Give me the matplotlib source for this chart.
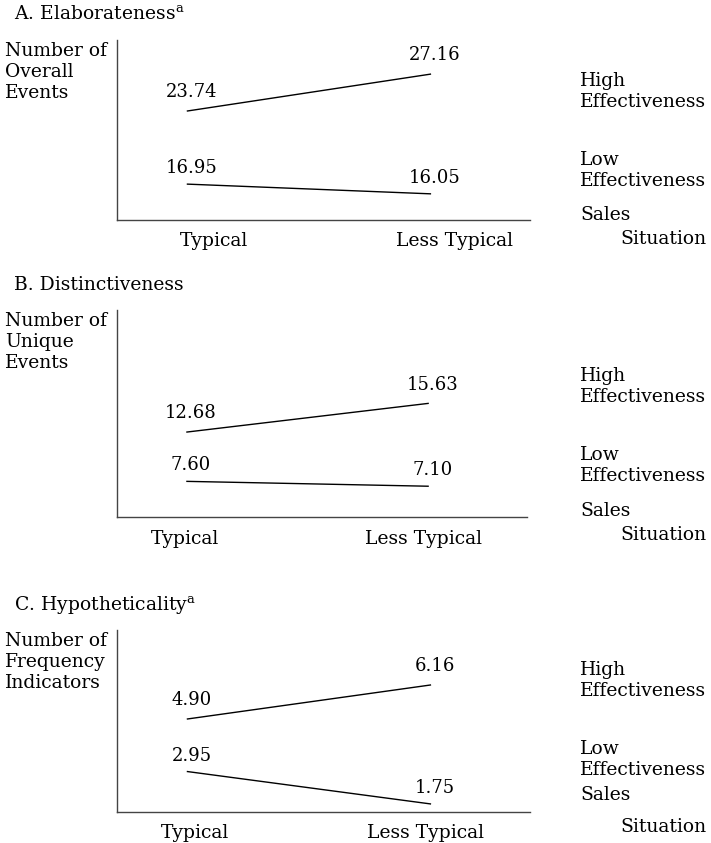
import matplotlib.pyplot as plt

plt.rcParams['font.family'] = 'DejaVu Serif'
plt.rcParams['mathtext.fontset'] = 'dejavuserif'

# data
situations = ['Typical', 'Less Typical']
titles = ['A. Elaborateness$^{\\mathrm{a}}$', 'B. Distinctiveness', 'C. Hypotheticality$^{\\mathrm{a}}$']
ylabels = ['Number of\nOverall\nEvents', 'Number of\nUnique\nEvents', 'Number of\nFrequency\nIndicators']
high_eff = [[23.74, 27.16], [12.68, 15.63], [4.90, 6.16]]
low_eff = [[16.95, 16.05], [7.60, 7.10], [2.95, 1.75]]

W, H = 711, 843
fig = plt.figure(figsize=(W / 100, H / 100), dpi=100)


def px(x, y):
    return x / W, 1 - y / H


# layout per panel (pixels)
axes_box = [(117, 40, 530, 220), (117, 310, 527, 517), (117, 630, 530, 812)]
ylims = [(13.62, 30.33), (3.93, 25.25), (1.45, 8.2)]
tick_pos = [[0.11, 1.10], [-0.01, 0.98], [0.03, 0.98]]
title_y = [5, 276, 594]
high_y = [72, 367, 661]
low_y = [151, 446, 740]
sales_y = [206, 502, 786]
sit_y = [230, 526, 818]

fs = 13.5
ls = 1.22
for i in range(3):
    l, t, r, b = axes_box[i]
    ax = fig.add_axes([l / W, 1 - b / H, (r - l) / W, (b - t) / H])
    xs = [0, 1]
    ax.plot(xs, high_eff[i], color='black', lw=1.0)
    ax.plot(xs, low_eff[i], color='black', lw=1.0)
    for x, v in zip(xs, high_eff[i]):
        ax.annotate('{:.2f}'.format(v), (x, v), xytext=(3, 7), textcoords='offset points',
                    ha='center', va='bottom', fontsize=13)
    for x, v in zip(xs, low_eff[i]):
        ax.annotate('{:.2f}'.format(v), (x, v), xytext=(3, 5), textcoords='offset points',
                    ha='center', va='bottom', fontsize=13)
    ax.set_xlim(-0.29, 1.41)
    ax.set_ylim(*ylims[i])
    ax.set_yticks([])
    ax.set_xticks(tick_pos[i])
    ax.set_xticklabels(situations, fontsize=fs)
    ax.tick_params(axis='x', length=0, pad=9)
    for s in ['top', 'right']:
        ax.spines[s].set_visible(False)
    for s in ['left', 'bottom']:
        ax.spines[s].set_color('#444444')
        ax.spines[s].set_linewidth(1.0)
    ax.patch.set_alpha(0)

    fig.text(*px(14, title_y[i]), titles[i], fontsize=fs, va='top', ha='left')
    fig.text(*px(5, t + 2), ylabels[i], fontsize=fs, va='top', ha='left', linespacing=ls)
    fig.text(*px(580, high_y[i]), 'High\nEffectiveness', fontsize=fs, va='top', ha='left', linespacing=ls)
    fig.text(*px(580, low_y[i]), 'Low\nEffectiveness', fontsize=fs, va='top', ha='left', linespacing=ls)
    fig.text(*px(580, sales_y[i]), 'Sales', fontsize=fs, va='top', ha='left')
    fig.text(*px(706, sit_y[i]), 'Situation', fontsize=fs, va='top', ha='right')

fig.savefig('out.png', dpi=100)
